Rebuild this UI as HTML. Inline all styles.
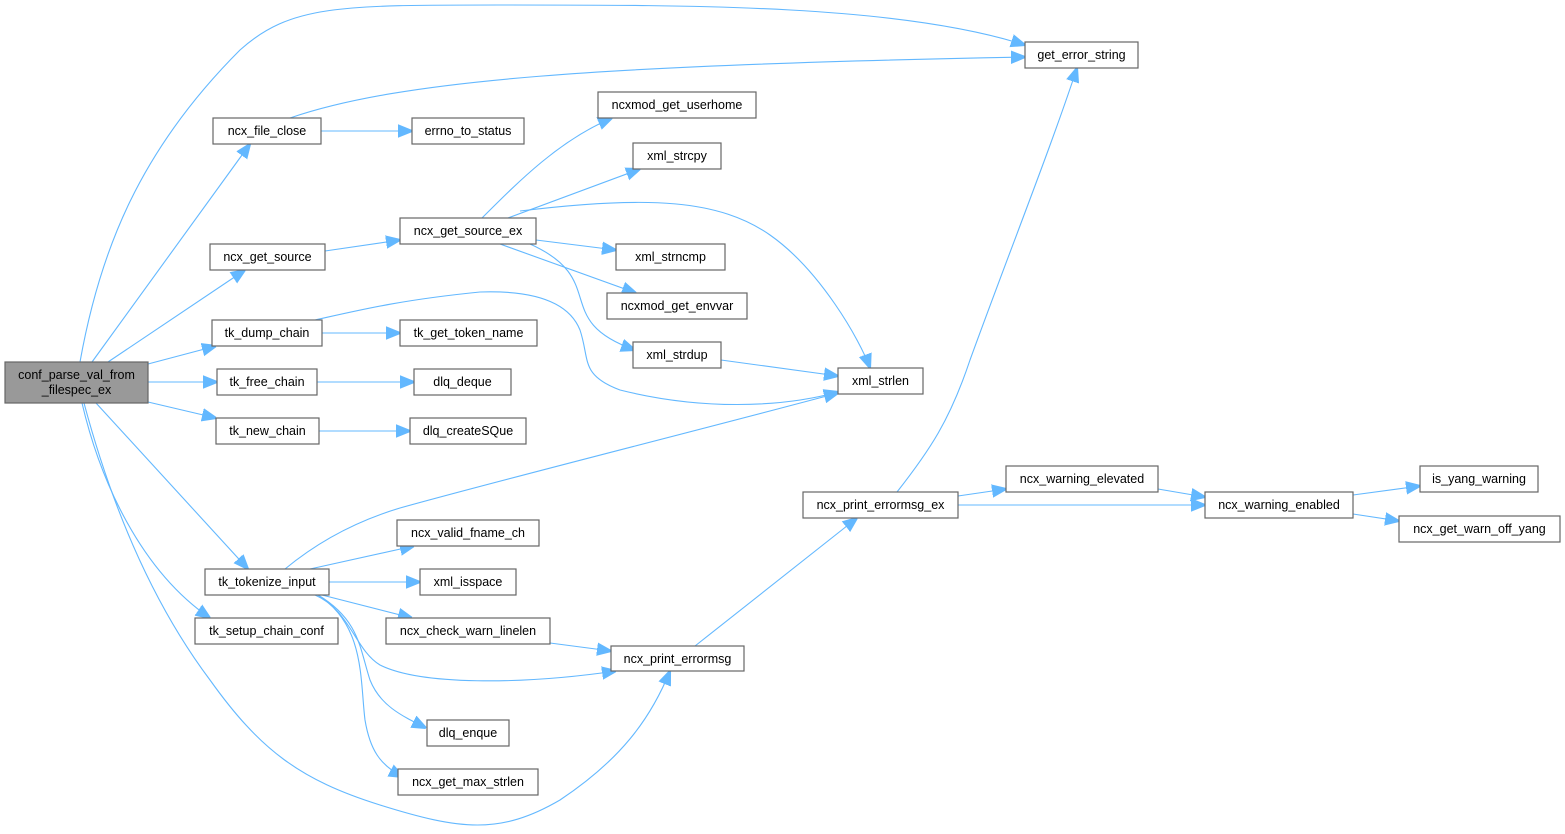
<!DOCTYPE html>
<html><head><meta charset="utf-8">
<style>
html,body{margin:0;padding:0;background:#fff;width:1565px;height:834px;overflow:hidden}
svg{display:block}
text{font-family:"Liberation Sans",Arial,sans-serif;font-size:12.5px;fill:#000}
.n{fill:#fff;stroke:#666;stroke-width:1.2}
.e{fill:none;stroke:#63b8ff;stroke-width:1.1}
</style></head><body>
<svg width="1565" height="834" viewBox="0 0 1565 834" xmlns="http://www.w3.org/2000/svg">
<defs>
<marker id="a" viewBox="0 0 10 10" refX="10" refY="5" markerWidth="14" markerHeight="14" markerUnits="userSpaceOnUse" orient="auto">
<path d="M0,1 L10,5 L0,9 z" fill="#63b8ff" stroke="#63b8ff" stroke-width="1.5"/>
</marker>
</defs>
<g class="e" marker-end="url(#a)">
<path d="M80,362 C100,250 140,150 240,50 C290,5 340,5 500,5 C700,5 900,5 1025,45"/>
<path d="M92,362 L250,144"/>
<path d="M108,362 L245,270"/>
<path d="M148,364 L216,346"/>
<path d="M148,382 L217,382"/>
<path d="M148,402 L216,418"/>
<path d="M96,403 L248,569"/>
<path d="M82,403 C100,480 140,570 210,618"/>
<path d="M84,403 C110,500 150,600 210,680 C260,750 300,780 380,805 C460,830 500,835 560,800 C620,760 650,720 670,671"/>
<path d="M290,118 C400,80 600,65 1025,57"/>
<path d="M321,131 L412,131"/>
<path d="M325,251 L400,240"/>
<path d="M482,218 C520,180 560,140 612,118"/>
<path d="M508,218 L640,169"/>
<path d="M536,240 L616,250"/>
<path d="M500,244 L636,293"/>
<path d="M520,211 C650,195 720,200 770,235 C820,270 860,340 870,368"/>
<path d="M530,244 C610,280 550,320 635,350"/>
<path d="M315,320 C360,310 400,300 480,292 C540,290 570,305 580,330 C590,360 580,375 620,390 C700,410 780,408 838,392"/>
<path d="M322,333 L400,333"/>
<path d="M721,360 L838,376"/>
<path d="M317,382 L414,382"/>
<path d="M319,431 L410,431"/>
<path d="M285,569 C320,540 360,520 400,508 C500,480 700,430 838,393"/>
<path d="M310,569 L414,546"/>
<path d="M329,582 L420,582"/>
<path d="M322,595 L412,618"/>
<path d="M315,595 C350,610 355,650 380,665 C420,685 520,685 616,671"/>
<path d="M318,595 C360,620 360,650 370,680 C380,705 400,715 426,728"/>
<path d="M318,595 C365,625 360,680 365,720 C370,750 380,765 403,777"/>
<path d="M550,643 L611,651"/>
<path d="M695,646 L857,518"/>
<path d="M897,492 C930,450 950,420 970,360 C1010,250 1050,150 1077,68"/>
<path d="M958,496 L1006,489"/>
<path d="M958,505 L1205,505"/>
<path d="M1158,489 L1205,497"/>
<path d="M1353,495 L1420,486"/>
<path d="M1353,514 L1399,521"/>
</g>
<g>
<rect x="5" y="362" width="143" height="41" fill="#999" stroke="#666" stroke-width="1.2"/>
<text x="76.5" y="379" text-anchor="middle">conf_parse_val_from</text>
<text x="76.5" y="394" text-anchor="middle">_filespec_ex</text>
</g>
<g text-anchor="middle">
<rect class="n" x="1025" y="42" width="113" height="26"/><text x="1081.5" y="59">get_error_string</text>
<rect class="n" x="213" y="118" width="108" height="26"/><text x="267" y="135">ncx_file_close</text>
<rect class="n" x="412" y="118" width="112" height="26"/><text x="468" y="135">errno_to_status</text>
<rect class="n" x="598" y="92" width="158" height="26"/><text x="677" y="109">ncxmod_get_userhome</text>
<rect class="n" x="633" y="143" width="88" height="26"/><text x="677" y="160">xml_strcpy</text>
<rect class="n" x="400" y="218" width="136" height="26"/><text x="468" y="235">ncx_get_source_ex</text>
<rect class="n" x="210" y="244" width="115" height="26"/><text x="267.5" y="261">ncx_get_source</text>
<rect class="n" x="616" y="244" width="109" height="26"/><text x="670.5" y="261">xml_strncmp</text>
<rect class="n" x="607" y="293" width="140" height="26"/><text x="677" y="310">ncxmod_get_envvar</text>
<rect class="n" x="212" y="320" width="110" height="26"/><text x="267" y="337">tk_dump_chain</text>
<rect class="n" x="400" y="320" width="137" height="26"/><text x="468.5" y="337">tk_get_token_name</text>
<rect class="n" x="633" y="342" width="88" height="26"/><text x="677" y="359">xml_strdup</text>
<rect class="n" x="838" y="368" width="85" height="26"/><text x="880.5" y="385">xml_strlen</text>
<rect class="n" x="217" y="369" width="100" height="26"/><text x="267" y="386">tk_free_chain</text>
<rect class="n" x="414" y="369" width="97" height="26"/><text x="462.5" y="386">dlq_deque</text>
<rect class="n" x="216" y="418" width="103" height="26"/><text x="267.5" y="435">tk_new_chain</text>
<rect class="n" x="410" y="418" width="116" height="26"/><text x="468" y="435">dlq_createSQue</text>
<rect class="n" x="1006" y="466" width="152" height="26"/><text x="1082" y="483">ncx_warning_elevated</text>
<rect class="n" x="1420" y="466" width="118" height="26"/><text x="1479" y="483">is_yang_warning</text>
<rect class="n" x="803" y="492" width="155" height="26"/><text x="880.5" y="509">ncx_print_errormsg_ex</text>
<rect class="n" x="1205" y="492" width="148" height="26"/><text x="1279" y="509">ncx_warning_enabled</text>
<rect class="n" x="1399" y="516" width="161" height="26"/><text x="1479.5" y="533">ncx_get_warn_off_yang</text>
<rect class="n" x="397" y="520" width="142" height="26"/><text x="468" y="537">ncx_valid_fname_ch</text>
<rect class="n" x="205" y="569" width="124" height="26"/><text x="267" y="586">tk_tokenize_input</text>
<rect class="n" x="420" y="569" width="96" height="26"/><text x="468" y="586">xml_isspace</text>
<rect class="n" x="195" y="618" width="143" height="26"/><text x="266.5" y="635">tk_setup_chain_conf</text>
<rect class="n" x="386" y="618" width="164" height="26"/><text x="468" y="635">ncx_check_warn_linelen</text>
<rect class="n" x="611" y="646" width="133" height="25"/><text x="677.5" y="663">ncx_print_errormsg</text>
<rect class="n" x="427" y="720" width="82" height="26"/><text x="468" y="737">dlq_enque</text>
<rect class="n" x="398" y="769" width="140" height="26"/><text x="468" y="786">ncx_get_max_strlen</text>
</g>
</svg>
</body></html>
